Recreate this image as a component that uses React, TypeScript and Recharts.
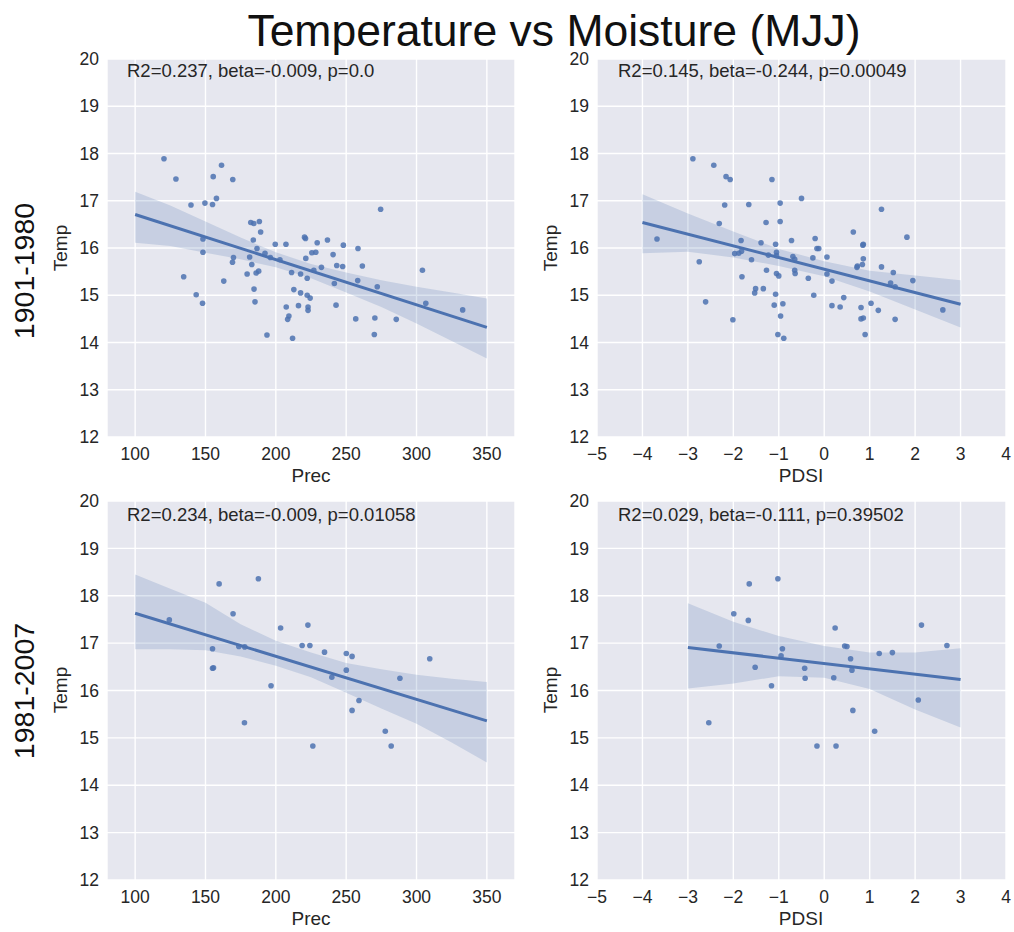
import React from 'react';
import { ComposedChart, Scatter, Line, Area, XAxis, YAxis, CartesianGrid } from 'recharts';

const BLUE = '#4c72b0';
const FONT = '"Liberation Sans", Arial, Helvetica, sans-serif';
const TEMP_TICKS = [12, 13, 14, 15, 16, 17, 18, 19, 20];
const PREC_TICKS = [100, 150, 200, 250, 300, 350];
const PDSI_TICKS = [-5, -4, -3, -2, -1, 0, 1, 2, 3, 4];

// 1901-1980, Prec vs Temp
const precEarly = [
  120.5, 129, 161.4, 155.5, 169.4, 157.8, 149.6, 155, 139.7, 274.5, 148.2, 148.2, 134.5, 143.4, 147.9, 163,
  169.9, 169.2, 182.2, 184.3, 188.3, 189.2, 184, 186.6, 181.4, 182.9, 179.6, 186, 187.8, 184.5, 185.2, 193.7,
  199.6, 207.2, 192.3, 196.1, 202.9, 211.2, 207.4, 209.3, 208.4, 211.9, 212.8, 217.6, 217.6, 216.1, 220.4, 221.1,
  221.3, 222.3, 222.3, 224.4, 222.9, 222.9, 225.6, 228.4, 229.4, 227, 232.4, 236.7, 240.7, 243.3, 241.6, 242.8,
  248, 247.5, 258.4, 261.5, 258.2, 256.8, 270.4, 270, 272.1, 285.6, 304.2, 306.6, 332.8,
];
const tempEarlyPrec = [
  17.89, 17.46, 17.75, 17.51, 17.45, 17.05, 16.95, 16.92, 16.91, 16.82, 16.19, 15.91, 15.39, 15.01, 14.83, 15.3,
  15.8, 15.7, 16.54, 16.52, 16.56, 16.34, 16.17, 15.99, 15.81, 15.65, 15.45, 15.47, 15.51, 15.13, 14.86, 14.16,
  16.08, 16.08, 15.89, 15.8, 15.75, 15.48, 14.75, 14.56, 14.49, 14.09, 15.12, 15.45, 15.05, 14.78, 16.23, 16.2,
  15.78, 15.36, 15.0, 14.94, 14.75, 14.68, 15.9, 15.91, 16.11, 15.53, 15.59, 16.17, 15.86, 15.63, 15.25, 14.79,
  16.06, 15.61, 15.99, 15.62, 15.31, 14.5, 14.52, 14.17, 15.18, 14.49, 15.53, 14.83, 14.69,
];
const fitEarlyPrecX = [100, 350];
const fitEarlyPrecY = [16.71, 14.32];
const ciEarlyPrecX = [100, 125, 150, 175, 200, 225, 250, 275, 300, 325, 350];
const ciEarlyPrecLo = [16.11, 16.04, 15.9, 15.76, 15.59, 15.36, 15.06, 14.75, 14.4, 14.03, 13.66];
const ciEarlyPrecHi = [17.19, 16.9, 16.56, 16.22, 15.91, 15.66, 15.48, 15.32, 15.18, 15.06, 14.93];

// 1901-1980, PDSI vs Temp
const pdsiEarly = [
  -2.89, -2.43, -2.16, -2.07, -1.15, -0.5, -2.19, -1.66, -0.97, 1.26, -2.31, -1.28, -0.97, -3.68, -1.83, -1.39,
  -1.07, -0.72, -0.2, 0.64, 1.82, 0.86, 0.85, -1.97, -1.88, -1.82, -1.05, -1.05, -1.23, -0.16, -0.12, -2.75,
  -1.6, -0.69, -0.65, -0.25, 0.06, 0.86, 0.73, 0.72, 0.84, 1.26, 1.52, -1.27, -1.05, -1.0, -0.65, -0.64,
  -0.35, 0.06, 0.17, -1.81, -1.34, -1.51, -1.53, -1.07, -0.23, 1.46, 1.56, 1.95, -1.1, -0.91, -2.61, 0.17,
  0.35, 0.43, 1.03, 1.19, 0.81, -2.01, -0.96, 0.81, 0.86, 1.56, 2.61, -1.02, -0.89, 0.9,
];
const tempEarlyPdsi = [
  17.89, 17.75, 17.51, 17.45, 17.45, 17.05, 16.91, 16.92, 16.95, 16.82, 16.52, 16.54, 16.56, 16.19, 16.16, 16.11,
  16.08, 16.16, 16.2, 16.34, 16.23, 16.08, 16.06, 15.88, 15.89, 15.93, 15.91, 15.84, 15.85, 15.99, 15.99, 15.71,
  15.75, 15.82, 15.76, 15.79, 15.81, 15.77, 15.62, 15.59, 15.65, 15.6, 15.48, 15.53, 15.46, 15.41, 15.53, 15.46,
  15.36, 15.45, 15.3, 15.39, 15.14, 15.14, 15.05, 15.02, 15.0, 15.26, 15.18, 15.31, 14.79, 14.82, 14.86, 14.78,
  14.75, 14.95, 14.83, 14.68, 14.74, 14.48, 14.56, 14.5, 14.52, 14.49, 14.69, 14.17, 14.09, 14.17,
];
const fitEarlyPdsiX = [-4, 3];
const fitEarlyPdsiY = [16.54, 14.81];
const ciEarlyPdsiX = [-4, -3, -2, -1, 0, 1, 2, 3];
const ciEarlyPdsiLo = [15.89, 15.92, 15.8, 15.62, 15.4, 15.08, 14.7, 14.32];
const ciEarlyPdsiHi = [17.14, 16.73, 16.35, 15.98, 15.72, 15.52, 15.42, 15.32];

// 1981-2007, Prec vs Temp
const precLate = [
  124.3, 159.7, 187.6, 169.6, 155, 155, 155.7, 173.7, 177.9, 177.7, 196.6, 203.4, 218.7, 224.2, 222.8, 234.6,
  239.8, 250.1, 254.2, 250.1, 259.1, 254.2, 226.3, 277.8, 282, 288.2, 309.4,
];
const tempLatePrec = [
  17.49, 18.25, 18.36, 17.62, 16.88, 16.47, 16.48, 16.93, 16.92, 15.32, 16.1, 17.32, 16.95, 16.95, 17.38, 16.81,
  16.28, 16.78, 16.72, 16.43, 15.79, 15.58, 14.83, 15.14, 14.83, 16.26, 16.67,
];
const fitLatePrecX = [100, 350];
const fitLatePrecY = [17.63, 15.36];
const ciLatePrecX = [100, 125, 150, 175, 200, 225, 250, 275, 300, 325, 350];
const ciLatePrecLo = [16.87, 16.87, 16.85, 16.72, 16.52, 16.28, 15.95, 15.62, 15.3, 14.9, 14.48];
const ciLatePrecHi = [18.45, 18.15, 17.85, 17.4, 17.05, 16.8, 16.58, 16.45, 16.33, 16.25, 16.18];

// 1981-2007, PDSI vs Temp
const pdsiLate = [
  -2.54, -2.31, -1.99, -1.67, -1.65, -1.52, -1.16, -1.02, -0.92, -0.95, -0.43, -0.42, -0.16, 0.24, 0.21, 0.26,
  0.45, 0.5, 0.58, 0.61, 0.63, 1.11, 1.21, 1.5, 2.07, 2.14, 2.7,
];
const tempLatePdsi = [
  15.32, 16.94, 17.62, 17.48, 18.25, 16.49, 16.1, 18.36, 16.88, 16.73, 16.47, 16.26, 14.83, 17.32, 16.27, 14.83,
  16.94, 16.93, 16.67, 16.43, 15.58, 15.14, 16.78, 16.8, 15.8, 17.38, 16.95,
];
const fitLatePdsiX = [-3, 3];
const fitLatePdsiY = [16.91, 16.23];
const ciLatePdsiX = [-3, -2, -1, 0, 1, 2, 3];
const ciLatePdsiLo = [16.04, 16.15, 16.3, 16.27, 16.03, 15.6, 15.22];
const ciLatePdsiHi = [17.84, 17.45, 17.15, 16.94, 16.8, 16.8, 16.89];

const zipXY = (xs: number[], ys: number[]) => xs.map((x, i) => ({ x, y: ys[i] }));
const zipBand = (xs: number[], lo: number[], hi: number[]) => xs.map((x, i) => ({ x, band: [lo[i], hi[i]] }));

const minus = (v: number) => (v < 0 ? `\u2212${Math.abs(v)}` : `${v}`);

const dot = (props: any) => <circle cx={props.cx} cy={props.cy} r={2.8} fill={BLUE} fillOpacity={0.85} />;

const tickStyle = { fontSize: 17.5, fill: '#262626', fontFamily: FONT };

interface PanelProps {
  left: number;
  top: number;
  plotWidth: number;
  plotHeight: number;
  points: { x: number; y: number }[];
  fit: { x: number; y: number }[];
  band: { x: number; band: number[] }[];
  xDomain: [number, number];
  xTicks: number[];
  pdsi?: boolean;
}

function Panel({ left, top, plotWidth, plotHeight, points, fit, band, xDomain, xTicks, pdsi }: PanelProps) {
  const yWidth = 77;
  const xHeight = 50;
  const mTop = 9;
  const mRight = 10;
  return (
    <div style={{ position: 'absolute', left, top }}>
      <ComposedChart
        width={yWidth + plotWidth + mRight}
        height={mTop + plotHeight + xHeight}
        margin={{ top: mTop, right: mRight, bottom: 0, left: 0 }}
      >
        <CartesianGrid fill="#e6e7ef" stroke="#ffffff" strokeWidth={1.4} />
        <XAxis
          type="number"
          dataKey="x"
          domain={xDomain}
          ticks={xTicks}
          interval={0}
          allowDataOverflow
          axisLine={false}
          tickLine={false}
          tickMargin={5}
          height={xHeight}
          tick={tickStyle}
          tickFormatter={pdsi ? minus : undefined}
        />
        <YAxis
          type="number"
          dataKey="y"
          domain={[12, 20]}
          ticks={TEMP_TICKS}
          interval={0}
          allowDataOverflow
          axisLine={false}
          tickLine={false}
          width={yWidth}
          tick={tickStyle}
        />
        <Area
          data={band}
          dataKey="band"
          type="linear"
          fill={BLUE}
          fillOpacity={0.2}
          stroke="none"
          isAnimationActive={false}
        />
        <Line data={fit} dataKey="y" type="linear" stroke={BLUE} strokeWidth={3} dot={false} isAnimationActive={false} />
        <Scatter data={points} fill={BLUE} shape={dot} isAnimationActive={false} />
      </ComposedChart>
    </div>
  );
}

export default function App() {
  const label = { fontFamily: FONT, fill: '#262626' };
  return (
    <div style={{ position: 'absolute', left: 0, top: 0, width: 1014, height: 932, background: '#fff' }}>
      <Panel
        left={30}
        top={50}
        plotWidth={408}
        plotHeight={378}
        points={zipXY(precEarly, tempEarlyPrec)}
        fit={zipXY(fitEarlyPrecX, fitEarlyPrecY)}
        band={zipBand(ciEarlyPrecX, ciEarlyPrecLo, ciEarlyPrecHi)}
        xDomain={[80, 370]}
        xTicks={PREC_TICKS}
      />
      <Panel
        left={520}
        top={50}
        plotWidth={409}
        plotHeight={378}
        points={zipXY(pdsiEarly, tempEarlyPdsi)}
        fit={zipXY(fitEarlyPdsiX, fitEarlyPdsiY)}
        band={zipBand(ciEarlyPdsiX, ciEarlyPdsiLo, ciEarlyPdsiHi)}
        xDomain={[-5, 4]}
        xTicks={PDSI_TICKS}
        pdsi
      />
      <Panel
        left={30}
        top={492}
        plotWidth={408}
        plotHeight={379}
        points={zipXY(precLate, tempLatePrec)}
        fit={zipXY(fitLatePrecX, fitLatePrecY)}
        band={zipBand(ciLatePrecX, ciLatePrecLo, ciLatePrecHi)}
        xDomain={[80, 370]}
        xTicks={PREC_TICKS}
      />
      <Panel
        left={520}
        top={492}
        plotWidth={409}
        plotHeight={379}
        points={zipXY(pdsiLate, tempLatePdsi)}
        fit={zipXY(fitLatePdsiX, fitLatePdsiY)}
        band={zipBand(ciLatePdsiX, ciLatePdsiLo, ciLatePdsiHi)}
        xDomain={[-5, 4]}
        xTicks={PDSI_TICKS}
        pdsi
      />
      <svg
        width={1014}
        height={932}
        style={{ position: 'absolute', left: 0, top: 0, pointerEvents: 'none' }}
      >
        <text x={554} y={46} textAnchor="middle" fontSize={44.5} fontFamily={FONT} fill="#111">
          Temperature vs Moisture (MJJ)
        </text>
        <text transform="translate(34,271) rotate(-90)" textAnchor="middle" fontSize={28.5} fontFamily={FONT} fill="#111">
          1901-1980
        </text>
        <text transform="translate(34,691) rotate(-90)" textAnchor="middle" fontSize={28.5} fontFamily={FONT} fill="#111">
          1981-2007
        </text>
        {[
          [67, 248],
          [557, 248],
          [67, 690],
          [557, 690],
        ].map(([x, y]) => (
          <text key={`${x}-${y}`} transform={`translate(${x},${y}) rotate(-90)`} textAnchor="middle" fontSize={19} {...label}>
            Temp
          </text>
        ))}
        <text x={311} y={482} textAnchor="middle" fontSize={19} {...label}>Prec</text>
        <text x={801} y={482} textAnchor="middle" fontSize={19} {...label}>PDSI</text>
        <text x={311} y={925} textAnchor="middle" fontSize={19} {...label}>Prec</text>
        <text x={801} y={925} textAnchor="middle" fontSize={19} {...label}>PDSI</text>
        <text x={127} y={77} fontSize={18.5} {...label}>R2=0.237, beta=-0.009, p=0.0</text>
        <text x={618} y={77} fontSize={18.5} {...label}>R2=0.145, beta=-0.244, p=0.00049</text>
        <text x={127} y={521} fontSize={18.5} {...label}>R2=0.234, beta=-0.009, p=0.01058</text>
        <text x={618} y={521} fontSize={18.5} {...label}>R2=0.029, beta=-0.111, p=0.39502</text>
      </svg>
    </div>
  );
}
